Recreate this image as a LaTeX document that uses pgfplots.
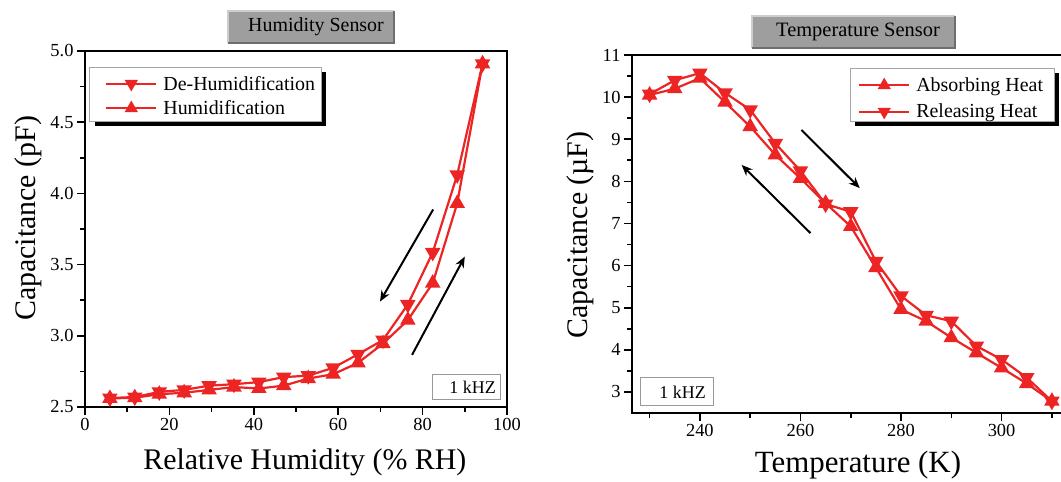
\documentclass[border=0pt]{standalone}
\usepackage{pgfplots}
\pgfplotsset{compat=1.18}
\usepackage{fontspec}
\setmainfont{Liberation Serif}
\usetikzlibrary{arrows.meta}
\definecolor{cred}{RGB}{236,36,36}
\definecolor{tgray}{RGB}{158,158,158}
\definecolor{tlight}{RGB}{205,205,205}
\definecolor{tdark}{RGB}{110,110,110}
\pgfplotstableread{
x    dehum  hum
5.9  2.563  2.56
11.8 2.57   2.565
17.6 2.606  2.59
23.5 2.62   2.60
29.4 2.65   2.62
35.3 2.66   2.64
41.2 2.675  2.63
47.1 2.71   2.65
52.9 2.72   2.70
58.8 2.775  2.73
64.7 2.87   2.81
70.6 2.97   2.945
76.5 3.22   3.11
82.4 3.585  3.37
88.2 4.13   3.93
94.2 4.91   4.91
}\humtab
\pgfplotstableread{
T    abs    rel
230  10.05  10.07
235  10.20  10.40
240  10.45  10.57
245  9.88   10.10
250  9.30   9.70
255  8.63   8.90
260  8.07   8.25
265  7.48   7.46
270  6.93   7.28
275  5.95   6.10
280  4.96   5.28
285  4.68   4.82
290  4.29   4.68
295  3.93   4.09
300  3.57   3.77
305  3.20   3.34
310  2.78   2.78
}\temptab
\begin{document}
\begin{tikzpicture}
\path[use as bounding box] (0,0) rectangle (1061bp,482bp);
% legend frames with solid shadow (drawn first, behind the axes)
\fill[black] (95bp,356bp) rectangle (326bp,410bp);
\filldraw[fill=white, draw=gray!70, line width=0.8bp] (89bp,361bp) rectangle (321bp,415bp);
\fill[black] (855bp,356bp) rectangle (1059bp,409bp);
\filldraw[fill=white, draw=gray!70, line width=0.8bp] (850bp,361bp) rectangle (1054bp,414bp);
\pgfplotsset{
  every axis/.append style={
    scale only axis,
    axis line style={line width=2.2bp},
    tick align=outside,
    xtick pos=left, ytick pos=left,
    major tick length=8bp, minor tick length=5bp,
    every tick/.style={line width=1.6bp, black},
    tick label style={font=\fontsize{18.5}{20}\selectfont},
    /pgf/number format/assume math mode=true,
    label style={font=\fontsize{30}{32}\selectfont},
    legend cell align=left,
    legend style={font=\fontsize{20}{22}\selectfont, draw=none, fill=none,
      inner sep=0pt, row sep=5bp, column sep=4bp, anchor=west},
    legend image code/.code={\draw[mark repeat=2,mark phase=2, mark size=5.5bp] plot coordinates {(0bp,0bp) (25bp,0bp) (50bp,0bp)};},
  },
  dat/.style={cred, line width=2.2bp, mark size=6.8bp},
}
% ---------------- Humidity sensor ----------------
\begin{axis}[
  at={(85bp,75bp)}, anchor=south west,
  width=422bp, height=356bp,
  xmin=0, xmax=100, ymin=2.5, ymax=5.0,
  xtick={0,20,40,60,80,100}, minor x tick num=1,
  ytick={2.5,3.0,3.5,4.0,4.5,5.0}, minor y tick num=1,
  yticklabel style={/pgf/number format/.cd, fixed, fixed zerofill, precision=1},
  xlabel={Relative Humidity (\% RH)},
  ylabel={Capacitance (pF)},
  xlabel style={at={(axis description cs:0.521,-0.155)}, anchor=center},
  ylabel style={at={(axis description cs:-0.135,0.53)}, anchor=center},
  legend style={at={(0.0474,0.8736)}},
]
\addplot[dat, mark=triangle*, mark options={solid, rotate=180}] table[x=x, y=dehum] {\humtab};
\addlegendentry{De-Humidification}
\addplot[dat, mark=triangle*, mark options={solid}] table[x=x, y=hum] {\humtab};
\addlegendentry{Humidification}
\draw[line width=2bp, -{Stealth[length=11bp, width=9bp]}] (axis cs:82.5,3.887) -- (axis cs:69.9,3.24);
\draw[line width=2bp, -{Stealth[length=11bp, width=9bp]}] (axis cs:77.5,2.866) -- (axis cs:90.0,3.556);
\end{axis}
% ---------------- Temperature sensor ----------------
\begin{axis}[
  at={(632bp,69bp)}, anchor=south west,
  width=443bp, height=358bp,
  xmin=226.5, xmax=314.6, ymin=2.5, ymax=11,
  xtick={240,260,280,300}, minor xtick={230,250,270,290,310},
  ytick={3,4,5,6,7,8,9,10,11}, minor y tick num=1,
  xlabel={Temperature (K)},
  ylabel={Capacitance (µF)},
  xlabel style={at={(axis description cs:0.51,-0.145)}, anchor=center, font=\fontsize{31}{33}\selectfont},
  ylabel style={at={(axis description cs:-0.117,0.497)}, anchor=center},
  legend style={at={(0.510,0.8785)}, row sep=7bp},
]
\addplot[dat, mark=triangle*, mark options={solid}] table[x=T, y=abs] {\temptab};
\addlegendentry{Absorbing Heat}
\addplot[dat, mark=triangle*, mark options={solid, rotate=180}] table[x=T, y=rel] {\temptab};
\addlegendentry{Releasing Heat}
\draw[line width=2bp, -{Stealth[length=11bp, width=9bp]}] (axis cs:260.2,9.22) -- (axis cs:271.8,7.84);
\draw[line width=2bp, -{Stealth[length=11bp, width=9bp]}] (axis cs:262.0,6.77) -- (axis cs:248.3,8.39);
\end{axis}
% ---------------- title boxes and frequency labels ----------------
\fill[tgray] (228bp,439bp) rectangle (394bp,471bp);
\draw[tlight, line width=1.5bp] (228bp,439bp) -- (228bp,471bp) -- (394bp,471bp);
\draw[tdark, line width=1.5bp] (228bp,439bp) -- (394bp,439bp) -- (394bp,471bp);
\node[font=\fontsize{20}{22}\selectfont, inner sep=0] at (316bp,455bp) {Humidity Sensor};
\fill[tgray] (752bp,434bp) rectangle (955bp,466bp);
\draw[tlight, line width=1.5bp] (752bp,434bp) -- (752bp,466bp) -- (955bp,466bp);
\draw[tdark, line width=1.5bp] (752bp,434bp) -- (955bp,434bp) -- (955bp,466bp);
\node[font=\fontsize{20.5}{22}\selectfont, inner sep=0] at (858bp,450bp) {Temperature Sensor};
\draw[gray!80, line width=1bp] (432bp,82bp) rectangle (500bp,107bp);
\node[font=\fontsize{18}{20}\selectfont, inner sep=0, anchor=east] at (496bp,94.5bp) {1 kHZ};
\draw[gray!80, line width=1bp] (640bp,76bp) rectangle (713bp,104bp);
\node[font=\fontsize{18}{20}\selectfont, inner sep=0, anchor=east] at (706bp,90bp) {1 kHZ};
\end{tikzpicture}
\end{document}
